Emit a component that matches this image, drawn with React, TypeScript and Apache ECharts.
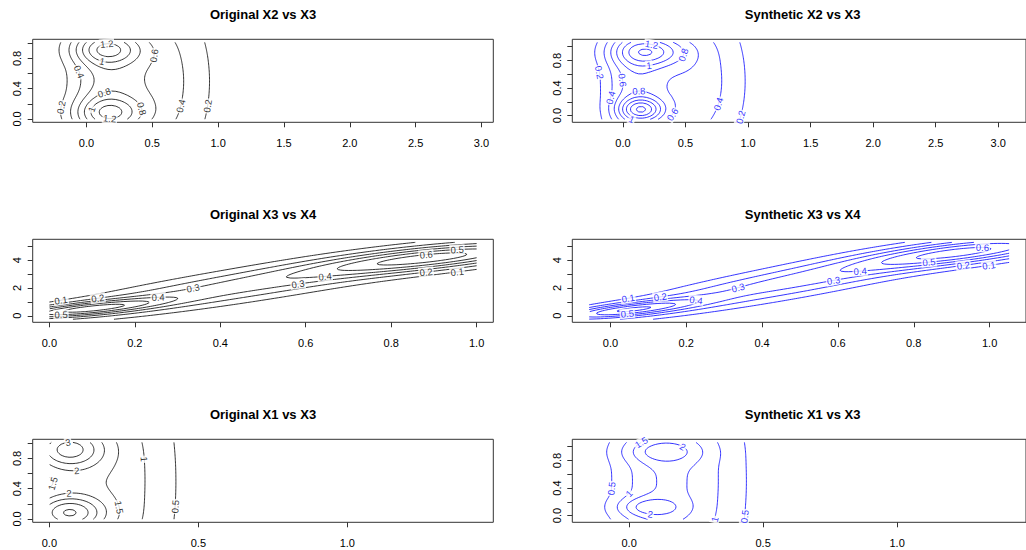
import React, { useEffect, useRef } from "react";
import * as echarts from "echarts";

// ---------------- data ----------------
const panelTitles = [
  "Original X2 vs X3",
  "Synthetic X2 vs X3",
  "Original X3 vs X4",
  "Synthetic X3 vs X4",
  "Original X1 vs X3",
  "Synthetic X1 vs X3",
];

// tick values
const xTicksX2X3 = [0, 0.5, 1, 1.5, 2, 2.5, 3];
const xTicksX3X4 = [0, 0.2, 0.4, 0.6, 0.8, 1];
const xTicksX1X3 = [0, 0.5, 1];
const yTicksUnit = [0, 0.2, 0.4, 0.6, 0.8, 1];
const yLabelsUnit = [0, 0.4, 0.8];
const yTicksX4 = [0, 1, 2, 3, 4, 5];
const yLabelsX4 = [0, 2, 4];

// axis extents
const xExtOrigX2X3 = [-0.408, 3.09];
const xExtSynX2X3 = [-0.405, 3.222];
const xExtOrigX3X4 = [-0.039, 1.039];
const xExtSynX3X4 = [-0.1005, 1.096];
const xExtOrigX1X3 = [-0.056, 1.49];
const xExtSynX1X3 = [-0.212, 1.481];
const yExtOrigUnit = [-0.044, 1.053];
const yExtSynUnit = [-0.098, 1.108];
const yExtX4 = [-0.47, 5.5];

// density estimation ranges (x0, x1, y0, y1)
const limsOrigX2X3 = [-0.278, 2.96, -0.003, 1.012];
const limsSynX2X3 = [-0.27, 3.086, -0.054, 1.063];
const limsOrigX3X4 = [0.0, 1.0, -0.25, 5.28];
const limsSynX3X4 = [-0.056, 1.0515, -0.25, 5.28];
const limsOrigX1X3 = [0.001, 1.433, -0.003, 1.012];
const limsSynX1X3 = [-0.149, 1.418, -0.054, 1.063];

// contour levels
const levelsX2X3 = [0.2, 0.4, 0.6, 0.8, 1, 1.2, 1.4, 1.6, 1.8];
const levelsX3X4 = [0.1, 0.2, 0.3, 0.4, 0.5, 0.6, 0.7];
const levelsX1X3 = [0.5, 1, 1.5, 2, 2.5, 3, 3.5];

// density bumps: [cx, cy, sx, sy, height, shear]
const bumpsOrigX2X3 = [
  [0.12, 0.5, 0.18, 0.9, 0.45, 0],
  [0.52, 0.5, 0.3, 0.9, 0.52, 0],
  [0.15, 0.92, 0.18, 0.14, 0.7, 0],
  [0.17, 0.08, 0.18, 0.15, 0.68, 0],
];
const bumpsSynX2X3 = [
  [0.08, 0.5, 0.17, 0.9, 0.55, 0],
  [0.55, 0.5, 0.3, 0.9, 0.55, 0],
  [0.2, 0.93, 0.2, 0.15, 0.8, 0],
  [0.145, 0.085, 0.12, 0.12, 1.0, 0],
];
const bumpsOrigX3X4 = [
  [0.08, 0.46, 0.13, 0.35, 0.5, 3],
  [0.45, 2.15, 0.3, 0.8, 0.34, 4.5],
  [0.92, 4.24, 0.2, 0.6, 0.55, 3],
];
const bumpsSynX3X4 = [
  [0.04, 0.4, 0.13, 0.35, 0.5, 3],
  [0.47, 2.4, 0.3, 0.8, 0.34, 4.7],
  [0.95, 4.65, 0.2, 0.6, 0.55, 3],
];
const bumpsOrigX1X3 = [
  [0.08, 0.5, 0.17, 1.5, 1.5, 0],
  [0.32, 0.5, 0.12, 1.5, 0.45, 0],
  [0.064, 0.92, 0.08, 0.17, 1.8, 0],
  [0.064, 0.08, 0.08, 0.15, 2.1, 0],
];
const bumpsSynX1X3 = [
  [0.12, 0.5, 0.13, 1.5, 1.35, 0],
  [0.32, 0.5, 0.13, 1.5, 0.65, 0],
  [0.12, 0.93, 0.1, 0.12, 0.9, 0],
  [0.07, 0.12, 0.08, 0.1, 1.1, 0],
];

// contour label positions: [x, y, level]
const labelsOrigX2X3 = [
  [0.152, 1.0, 1.2], [0.178, 0.075, 1.2], [0.114, 0.757, 1], [0.013, 0.14, 1],
  [0.139, 0.34, 0.8], [0.43, 0.14, 0.8], [0.62, 0.815, 0.6], [-0.076, 0.61, 0.4],
  [0.75, 0.16, 0.4], [-0.152, 0.14, 0.2], [0.95, 0.16, 0.2],
];
const labelsSynX2X3 = [
  [0.22, 1.0, 1.2], [0.497, 0.87, 0.8], [0.21, 0.69, 1], [-0.16, 0.64, 0.2],
  [-0.003, 0.51, 0.6], [0.128, 0.357, 0.8], [-0.07, 0.245, 0.4], [0.142, -0.025, 1],
  [0.443, -0.04, 0.6], [0.73, 0.19, 0.4], [0.947, -0.03, 0.2],
];
const labelsOrigX3X4 = [
  [0.029, 1.3, 0.1], [0.111, 1.42, 0.2], [0.255, 1.37, 0.4], [0.337, 2.04, 0.3],
  [0.583, 2.5, 0.3], [0.646, 2.93, 0.4], [0.884, 4.85, 0.6], [0.95, 5.2, 0.5],
  [0.882, 3.41, 0.2], [0.95, 3.41, 0.1], [0.029, -0.19, 0.5],
];
const labelsSynX3X4 = [
  [0.045, 1.41, 0.1], [0.132, 1.53, 0.2], [0.223, 1.3, 0.4], [0.336, 2.09, 0.3],
  [0.59, 2.5, 0.3], [0.045, -0.19, 0.5], [0.655, 3.21, 0.4], [0.976, 5.03, 0.6],
  [0.84, 4.0, 0.5], [0.928, 3.6, 0.2], [0.997, 3.64, 0.1],
];
const labelsOrigX1X3 = [
  [0.064, 1.0, 3], [0.086, 0.667, 2], [0.064, 0.3, 2], [0.008, 0.47, 1.5],
  [0.226, 0.147, 1.5], [0.31, 0.79, 1], [0.472, 0.147, 0.5],
];
const labelsSynX1X3 = [
  [0.088, 1.05, 1.5], [0.196, 0.99, 2], [-0.055, 0.39, 0.5], [0.0, 0.31, 1],
  [0.08, -0.015, 2], [0.28, -0.03, 1], [0.447, -0.02, 0.5],
];

const colorOrig = "#000000";
const colorSyn = "#0000ff";

// ---------------- layout ----------------
const COL_LEFT = [32.7, 572.3];
const ROW_TOP = [39.3, 239.3, 439.3];
const BOX_W = 460.6;
const BOX_H = 83;
const FONT = "'Liberation Sans', Arial, Helvetica, sans-serif";

const panels = [
  { title: panelTitles[0], lims: limsOrigX2X3, bumps: bumpsOrigX2X3, levels: levelsX2X3, labels: labelsOrigX2X3, xExt: xExtOrigX2X3, yExt: yExtOrigUnit, xTicks: xTicksX2X3, yTicks: yTicksUnit, yLabels: yLabelsUnit, yDigits: 1, color: colorOrig, col: 0, row: 0 },
  { title: panelTitles[1], lims: limsSynX2X3, bumps: bumpsSynX2X3, levels: levelsX2X3, labels: labelsSynX2X3, xExt: xExtSynX2X3, yExt: yExtSynUnit, xTicks: xTicksX2X3, yTicks: yTicksUnit, yLabels: yLabelsUnit, yDigits: 1, color: colorSyn, col: 1, row: 0 },
  { title: panelTitles[2], lims: limsOrigX3X4, bumps: bumpsOrigX3X4, levels: levelsX3X4, labels: labelsOrigX3X4, xExt: xExtOrigX3X4, yExt: yExtX4, xTicks: xTicksX3X4, yTicks: yTicksX4, yLabels: yLabelsX4, yDigits: 0, color: colorOrig, col: 0, row: 1 },
  { title: panelTitles[3], lims: limsSynX3X4, bumps: bumpsSynX3X4, levels: levelsX3X4, labels: labelsSynX3X4, xExt: xExtSynX3X4, yExt: yExtX4, xTicks: xTicksX3X4, yTicks: yTicksX4, yLabels: yLabelsX4, yDigits: 0, color: colorSyn, col: 1, row: 1 },
  { title: panelTitles[4], lims: limsOrigX1X3, bumps: bumpsOrigX1X3, levels: levelsX1X3, labels: labelsOrigX1X3, xExt: xExtOrigX1X3, yExt: yExtOrigUnit, xTicks: xTicksX1X3, yTicks: yTicksUnit, yLabels: yLabelsUnit, yDigits: 1, color: colorOrig, col: 0, row: 2 },
  { title: panelTitles[5], lims: limsSynX1X3, bumps: bumpsSynX1X3, levels: levelsX1X3, labels: labelsSynX1X3, xExt: xExtSynX1X3, yExt: yExtSynUnit, xTicks: xTicksX1X3, yTicks: yTicksUnit, yLabels: yLabelsUnit, yDigits: 1, color: colorSyn, col: 1, row: 2 },
];

// ---------------- helpers ----------------
function density(bumps: number[][], x: number, y: number) {
  let s = 0;
  for (const p of bumps) {
    const [mx, my, sx, sy, a, k] = p;
    const u = (x - mx) / sx;
    const v = (y - my - (k || 0) * (x - mx)) / sy;
    s += a * Math.exp(-0.5 * (u * u + v * v));
  }
  return s;
}

function gridValues(bumps: number[][], lims: number[], n: number) {
  const [x0, x1, y0, y1] = lims;
  const z: number[][] = [];
  for (let j = 0; j <= n; j++) {
    const row: number[] = [];
    const y = y0 + ((y1 - y0) * j) / n;
    for (let i = 0; i <= n; i++) row.push(density(bumps, x0 + ((x1 - x0) * i) / n, y));
    z.push(row);
  }
  return z;
}

function contourLines(z: number[][], lims: number[], n: number, level: number) {
  const [x0, x1, y0, y1] = lims;
  const X = (i: number) => x0 + ((x1 - x0) * i) / n;
  const Y = (j: number) => y0 + ((y1 - y0) * j) / n;
  const pts = new Map<string, number[]>();
  const adj = new Map<string, string[]>();
  const hEdge = (i: number, j: number) => {
    const id = "h" + i + "_" + j;
    if (!pts.has(id)) {
      const a = z[j][i], c = z[j][i + 1];
      const t = (level - a) / (c - a);
      pts.set(id, [X(i) + t * (X(i + 1) - X(i)), Y(j)]);
    }
    return id;
  };
  const vEdge = (i: number, j: number) => {
    const id = "v" + i + "_" + j;
    if (!pts.has(id)) {
      const a = z[j][i], c = z[j + 1][i];
      const t = (level - a) / (c - a);
      pts.set(id, [X(i), Y(j) + t * (Y(j + 1) - Y(j))]);
    }
    return id;
  };
  const link = (a: string, b: string) => {
    if (!adj.has(a)) adj.set(a, []);
    if (!adj.has(b)) adj.set(b, []);
    adj.get(a)!.push(b);
    adj.get(b)!.push(a);
  };
  for (let j = 0; j < n; j++) {
    for (let i = 0; i < n; i++) {
      const a = z[j][i], b = z[j][i + 1], c = z[j + 1][i + 1], d = z[j + 1][i];
      const A = a >= level, B = b >= level, C = c >= level, D = d >= level;
      const eB = A !== B ? hEdge(i, j) : null;
      const eR = B !== C ? vEdge(i + 1, j) : null;
      const eT = D !== C ? hEdge(i, j + 1) : null;
      const eL = A !== D ? vEdge(i, j) : null;
      const list = [eB, eR, eT, eL].filter((e) => e !== null) as string[];
      if (list.length === 2) link(list[0], list[1]);
      else if (list.length === 4) {
        const cen = (a + b + c + d) / 4 >= level;
        if (A === cen) {
          link(eB!, eR!);
          link(eT!, eL!);
        } else {
          link(eL!, eB!);
          link(eR!, eT!);
        }
      }
    }
  }
  const seen = new Set<string>();
  const out: number[][][] = [];
  const walk = (s: string) => {
    const chain = [s];
    seen.add(s);
    let cur = s;
    for (;;) {
      const nb = adj.get(cur)!;
      let nxt: string | null = null;
      for (const e of nb) if (!seen.has(e)) { nxt = e; break; }
      if (nxt === null) {
        if (chain.length > 2 && nb.includes(s)) chain.push(s);
        break;
      }
      seen.add(nxt);
      chain.push(nxt);
      cur = nxt;
    }
    out.push(chain.map((id) => pts.get(id)!));
  };
  for (const [id, nb] of adj) if (nb.length === 1 && !seen.has(id)) walk(id);
  for (const id of adj.keys()) if (!seen.has(id)) walk(id);
  return out;
}

const fmtLevel = (l: number) => String(parseFloat(l.toFixed(3)));

function buildOption() {
  const grids: any[] = [];
  const xAxes: any[] = [];
  const yAxes: any[] = [];
  const series: any[] = [];
  const graphics: any[] = [];
  const N = 110;

  panels.forEach((p, idx) => {
    const left = COL_LEFT[p.col];
    const top = ROW_TOP[p.row];
    grids.push({ left, top, width: BOX_W, height: BOX_H, show: true, borderColor: "#333", borderWidth: 1, backgroundColor: "transparent", containLabel: false });
    xAxes.push({
      gridIndex: idx, type: "value", min: p.xExt[0], max: p.xExt[1], position: "bottom",
      axisLine: { show: false, onZero: false }, splitLine: { show: false },
      axisTick: { show: true, customValues: p.xTicks, length: 5, lineStyle: { color: "#333" } },
      axisLabel: { customValues: p.xTicks, formatter: (v: number) => v.toFixed(1), fontSize: 11, color: "#000", margin: 15, fontFamily: FONT },
    });
    yAxes.push({
      gridIndex: idx, type: "value", min: p.yExt[0], max: p.yExt[1], position: "left",
      axisLine: { show: false, onZero: false }, splitLine: { show: false },
      axisTick: { show: true, customValues: p.yTicks, length: 5, lineStyle: { color: "#333" } },
      axisLabel: { customValues: p.yLabels, rotate: 90, formatter: (v: number) => v.toFixed(p.yDigits), fontSize: 11, color: "#000", margin: 10, fontFamily: FONT },
    });
    graphics.push({
      type: "text", x: left + BOX_W / 2, y: top - 24.5,
      style: { text: p.title, fontSize: 13, fontWeight: "bold", fontFamily: FONT, fill: "#000", align: "center", verticalAlign: "middle" },
    });

    const z = gridValues(p.bumps, p.lims, N);
    const byLevel: { level: number; lines: number[][][] }[] = [];
    for (const lv of p.levels) {
      const lines = contourLines(z, p.lims, N, lv).filter((l) => l.length > 1);
      byLevel.push({ level: lv, lines });
      for (const line of lines) {
        series.push({
          type: "line", xAxisIndex: idx, yAxisIndex: idx, data: line,
          showSymbol: false, symbol: "none", silent: true, animation: false, z: 2,
          lineStyle: { color: p.color, width: 0.8 },
        });
      }
    }

    const kx = BOX_W / (p.xExt[1] - p.xExt[0]);
    const ky = BOX_H / (p.yExt[1] - p.yExt[0]);
    const labelData: any[] = [];
    for (const [lx, ly, lv] of p.labels) {
      const entry = byLevel.find((e) => Math.abs(e.level - lv) < 1e-9);
      let best = { d: Infinity, line: null as number[][] | null, k: 0 };
      if (entry) {
        for (const line of entry.lines) {
          line.forEach((pt, k) => {
            const dx = (pt[0] - lx) * kx, dy = (pt[1] - ly) * ky;
            const d = dx * dx + dy * dy;
            if (d < best.d) best = { d, line, k };
          });
        }
      }
      let px = lx, py = ly, ang = 0;
      if (best.line && best.d < 30 * 30) {
        const L = best.line;
        px = L[best.k][0];
        py = L[best.k][1];
        const a = L[Math.max(0, best.k - 2)], b = L[Math.min(L.length - 1, best.k + 2)];
        ang = (Math.atan2((b[1] - a[1]) * ky, (b[0] - a[0]) * kx) * 180) / Math.PI;
        if (ang > 90) ang -= 180;
        if (ang < -90) ang += 180;
      }
      labelData.push({ value: [px, py], name: fmtLevel(lv), label: { rotate: ang } });
    }
    series.push({
      type: "scatter", xAxisIndex: idx, yAxisIndex: idx, data: labelData,
      symbolSize: 1, itemStyle: { color: "rgba(0,0,0,0)" }, silent: true, animation: false, z: 5,
      label: { show: true, position: "inside", formatter: "{b}", fontSize: 9.5, fontFamily: FONT, color: p.color, textBorderWidth: 0, textBorderColor: "transparent", backgroundColor: "#ffffff", padding: [0, 1] },
    });
  });

  return {
    animation: false,
    backgroundColor: "#ffffff",
    grid: grids,
    xAxis: xAxes,
    yAxis: yAxes,
    series,
    graphic: graphics,
  };
}

export default function App() {
  const ref = useRef<HTMLDivElement>(null);
  useEffect(() => {
    if (!ref.current) return;
    const chart = echarts.init(ref.current, undefined, { renderer: "svg" });
    chart.setOption(buildOption() as any);
    return () => chart.dispose();
  }, []);
  return <div ref={ref} style={{ position: "absolute", left: 0, top: 0, width: 1026, height: 550, background: "#fff" }} />;
}
